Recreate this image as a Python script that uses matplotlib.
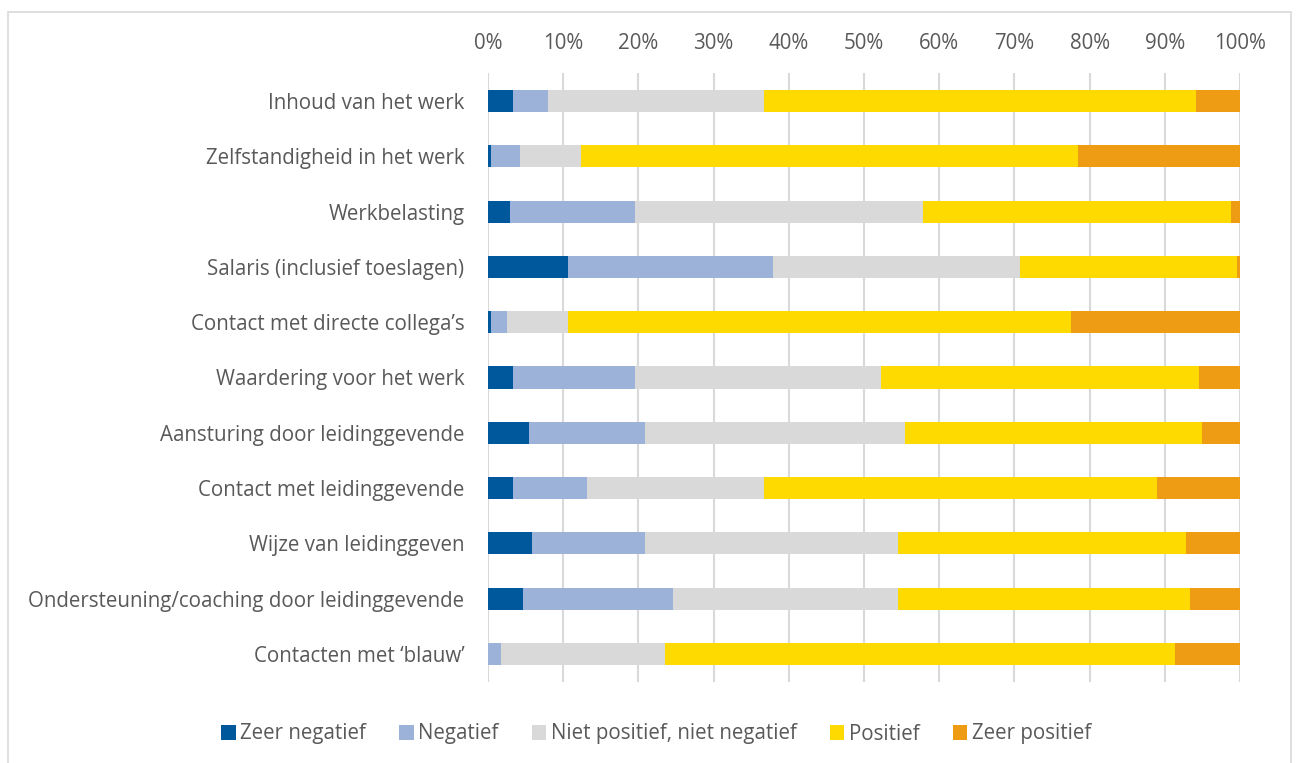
import matplotlib
matplotlib.use("Agg")
import matplotlib.pyplot as plt
from matplotlib.patches import Rectangle
from matplotlib.ticker import PercentFormatter
import numpy as np

categories = [
    "Inhoud van het werk",
    "Zelfstandigheid in het werk",
    "Werkbelasting",
    "Salaris (inclusief toeslagen)",
    "Contact met directe collega\u2019s",
    "Waardering voor het werk",
    "Aansturing door leidinggevende",
    "Contact met leidinggevende",
    "Wijze van leidinggeven",
    "Ondersteuning/coaching door leidinggevende",
    "Contacten met \u2018blauw\u2019",
]
series_names = ["Zeer negatief", "Negatief", "Niet positief, niet negatief", "Positief", "Zeer positief"]
zeer_negatief = [3.3, 0.4, 2.9, 10.6, 0.4, 3.3, 5.5, 3.3, 5.9, 4.7, 0.0]
negatief      = [4.7, 3.8, 16.6, 27.3, 2.1, 16.2, 15.4, 9.9, 15.0, 19.9, 1.7]
neutraal      = [28.7, 8.2, 38.4, 32.8, 8.1, 32.8, 34.5, 23.5, 33.6, 29.9, 21.8]
positief      = [57.4, 66.0, 40.9, 28.9, 66.9, 42.2, 39.5, 52.3, 38.3, 38.8, 67.9]
zeer_positief = [5.9, 21.6, 1.2, 0.4, 22.5, 5.5, 5.1, 11.0, 7.2, 6.7, 8.6]
colors = ["#00589C", "#9DB2D8", "#D9D9D9", "#FFDA00", "#EE9C13"]
xticks = [0, 10, 20, 30, 40, 50, 60, 70, 80, 90, 100]

plt.rcParams['font.family'] = ['Open Sans', 'DejaVu Sans']
W, H = 1298, 763
fs = 14.8
fig = plt.figure(figsize=(W / 100, H / 100), dpi=100)
ax = fig.add_axes([488 / W, 1 - 681.6 / H, (1240 - 488) / W, (681.6 - 73.4) / H])

data = [zeer_negatief, negatief, neutraal, positief, zeer_positief]
y = np.arange(len(categories))
left = np.zeros(len(categories))
for name, vals, c in zip(series_names, data, colors):
    vals = np.array(vals)
    ax.barh(y, vals, left=left, height=0.4, color=c, label=name, zorder=3)
    left += vals

ax.set_ylim(len(categories) - 0.5, -0.5)
ax.set_xlim(0, 100)
ax.set_xticks(xticks)
ax.xaxis.set_major_formatter(PercentFormatter(decimals=0))
ax.xaxis.tick_top()
ax.set_yticks(y)
ax.set_yticklabels(categories)
ax.tick_params(axis='x', length=0, pad=14, labelsize=fs, labelcolor="#595959")
ax.tick_params(axis='y', length=0, pad=17, labelsize=fs, labelcolor="#595959")
for s in ax.spines.values():
    s.set_visible(False)
ax.grid(axis='x', color="#D9D9D9", linewidth=1.5, zorder=0)

handles, labels = ax.get_legend_handles_labels()
fig.legend(handles, labels, loc='center', bbox_to_anchor=(656 / W, 1 - 734 / H), ncol=5,
           frameon=False, fontsize=fs, labelcolor="#595959", handlelength=0.72,
           handleheight=0.72, handletextpad=0.22, columnspacing=1.6)

fig.patches.append(Rectangle((8 / W, -0.05), (1291 - 8) / W, 1.05 - 12 / H,
                             transform=fig.transFigure, fill=False, edgecolor="#D9D9D9", linewidth=1.2))
fig.savefig("out.png", dpi=100, facecolor="white")
